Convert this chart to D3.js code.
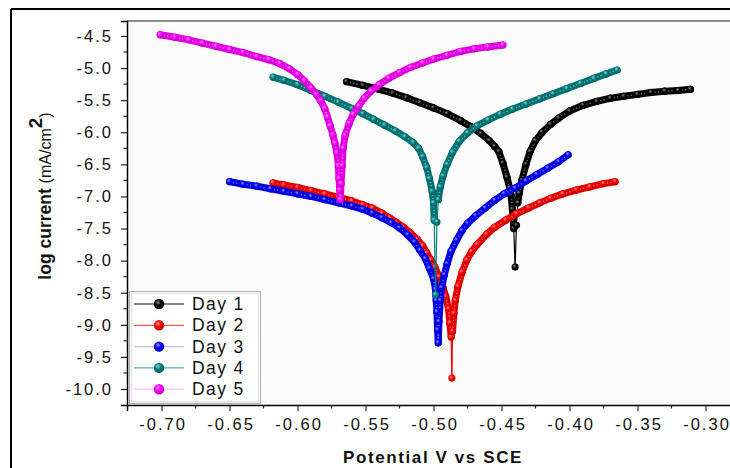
<!DOCTYPE html>
<html>
<head>
<meta charset="utf-8">
<script src="https://cdn.jsdelivr.net/npm/d3@7"></script>
<style>
  html, body { margin: 0; padding: 0; background: #fff; }
  svg { display: block; font-family: "Liberation Sans", Arial, sans-serif; }
</style>
</head>
<body>
<svg id="chart" width="730" height="468"></svg>
<script>
// Tafel polarisation curves: potential (V vs SCE) against log current (mA/cm²)
const seriesNames = ["Day 1", "Day 2", "Day 3", "Day 4", "Day 5"];
const seriesColors = ["#000000", "#ff0000", "#0000ff", "#008080", "#ff00ff"];

const day1 = [
  [-0.564, -5.21], [-0.552, -5.27], [-0.540, -5.33], [-0.530, -5.39], [-0.520, -5.46],
  [-0.510, -5.54], [-0.500, -5.62], [-0.490, -5.71], [-0.480, -5.82], [-0.472, -5.92],
  [-0.465, -6.02], [-0.459, -6.13], [-0.455, -6.22], [-0.452, -6.30], [-0.449, -6.48],
  [-0.446, -6.70], [-0.444, -6.87], [-0.443, -6.98], [-0.442, -7.20], [-0.441, -7.50],
  [-0.440, -8.10], [-0.439, -7.45], [-0.438, -7.10], [-0.437, -6.95], [-0.435, -6.75],
  [-0.432, -6.50], [-0.429, -6.30], [-0.425, -6.13], [-0.420, -6.00], [-0.414, -5.88],
  [-0.408, -5.78], [-0.400, -5.67], [-0.390, -5.58], [-0.380, -5.52], [-0.370, -5.47],
  [-0.360, -5.44], [-0.350, -5.41], [-0.340, -5.38], [-0.330, -5.36], [-0.320, -5.35],
  [-0.311, -5.33]
];

const day2 = [
  [-0.618, -6.79], [-0.610, -6.82], [-0.600, -6.86], [-0.590, -6.91], [-0.580, -6.96],
  [-0.570, -7.01], [-0.560, -7.07], [-0.552, -7.13], [-0.545, -7.18], [-0.538, -7.26],
  [-0.532, -7.34], [-0.527, -7.41], [-0.522, -7.48], [-0.517, -7.57], [-0.512, -7.67],
  [-0.508, -7.77], [-0.505, -7.88], [-0.502, -7.99], [-0.499, -8.10], [-0.496, -8.25],
  [-0.493, -8.42], [-0.491, -8.56], [-0.489, -8.75], [-0.488, -8.97], [-0.487, -9.19],
  [-0.4865, -9.83], [-0.486, -9.10], [-0.485, -8.82], [-0.484, -8.62], [-0.482, -8.40],
  [-0.479, -8.18], [-0.4755, -7.99], [-0.472, -7.86], [-0.468, -7.75], [-0.461, -7.59],
  [-0.455, -7.48], [-0.447, -7.37], [-0.439, -7.27], [-0.430, -7.18], [-0.422, -7.10],
  [-0.414, -7.03], [-0.405, -6.96], [-0.395, -6.90], [-0.385, -6.85], [-0.375, -6.80],
  [-0.3665, -6.77]
];

const day3 = [
  [-0.650, -6.77], [-0.640, -6.81], [-0.630, -6.84], [-0.620, -6.88], [-0.610, -6.92],
  [-0.600, -6.96], [-0.590, -7.00], [-0.580, -7.05], [-0.570, -7.10], [-0.560, -7.15],
  [-0.552, -7.20], [-0.545, -7.26], [-0.538, -7.33], [-0.531, -7.41], [-0.525, -7.49],
  [-0.519, -7.60], [-0.514, -7.71], [-0.510, -7.84], [-0.506, -7.97], [-0.503, -8.12],
  [-0.500, -8.28], [-0.4985, -8.45], [-0.498, -8.62], [-0.4975, -8.80], [-0.497, -9.08],
  [-0.4965, -9.28], [-0.496, -8.95], [-0.495, -8.62], [-0.494, -8.42], [-0.492, -8.22],
  [-0.490, -8.05], [-0.487, -7.85], [-0.483, -7.68], [-0.479, -7.53], [-0.475, -7.42],
  [-0.469, -7.30], [-0.462, -7.18], [-0.455, -7.06], [-0.448, -6.96], [-0.440, -6.87],
  [-0.432, -6.76], [-0.424, -6.66], [-0.416, -6.56], [-0.408, -6.46], [-0.401, -6.35]
];

const day4 = [
  [-0.618, -5.14], [-0.610, -5.19], [-0.600, -5.26], [-0.590, -5.35], [-0.580, -5.44],
  [-0.570, -5.53], [-0.560, -5.63], [-0.552, -5.71], [-0.544, -5.80], [-0.536, -5.89],
  [-0.528, -5.98], [-0.521, -6.07], [-0.515, -6.16], [-0.511, -6.25], [-0.508, -6.38],
  [-0.505, -6.55], [-0.503, -6.72], [-0.501, -6.92], [-0.500, -7.10], [-0.4995, -7.37],
  [-0.4985, -8.53], [-0.4975, -7.40], [-0.4965, -7.05], [-0.495, -6.85], [-0.493, -6.68],
  [-0.490, -6.50], [-0.486, -6.31], [-0.481, -6.14], [-0.475, -6.01], [-0.468, -5.90],
  [-0.460, -5.81], [-0.451, -5.72], [-0.442, -5.64], [-0.432, -5.56], [-0.422, -5.48],
  [-0.412, -5.40], [-0.402, -5.32], [-0.392, -5.24], [-0.382, -5.16], [-0.373, -5.09],
  [-0.365, -5.03]
];

const day5 = [
  [-0.701, -4.48], [-0.690, -4.52], [-0.680, -4.56], [-0.670, -4.61], [-0.660, -4.66],
  [-0.650, -4.71], [-0.640, -4.76], [-0.630, -4.82], [-0.621, -4.87], [-0.613, -4.93],
  [-0.606, -5.01], [-0.600, -5.10], [-0.595, -5.20], [-0.590, -5.31], [-0.586, -5.41],
  [-0.583, -5.51], [-0.580, -5.63], [-0.578, -5.76], [-0.576, -5.90], [-0.574, -6.04],
  [-0.5725, -6.17], [-0.571, -6.32], [-0.570, -6.52], [-0.5695, -6.72], [-0.569, -6.90],
  [-0.5685, -7.05], [-0.568, -6.80], [-0.5672, -6.52], [-0.5665, -6.25], [-0.565, -6.05],
  [-0.562, -5.86], [-0.559, -5.72], [-0.555, -5.59], [-0.551, -5.47], [-0.546, -5.36],
  [-0.540, -5.26], [-0.533, -5.16], [-0.525, -5.07], [-0.517, -4.99], [-0.508, -4.92],
  [-0.500, -4.86], [-0.490, -4.80], [-0.480, -4.74], [-0.470, -4.70], [-0.460, -4.67],
  [-0.449, -4.64]
];

const seriesData = [day1, day2, day3, day4, day5];

const xTicks = [-0.70, -0.65, -0.60, -0.55, -0.50, -0.45, -0.40, -0.35, -0.30];
const yTicks = [-4.5, -5.0, -5.5, -6.0, -6.5, -7.0, -7.5, -8.0, -8.5, -9.0, -9.5, -10.0];

const svg = d3.select("#chart");
const plot = { left: 127, top: 21, right: 735, bottom: 405 };

const x = d3.scaleLinear().domain([-0.7254, -0.2783]).range([plot.left, plot.right]);
const y = d3.scaleLinear().domain([-4.2664, -10.2494]).range([plot.top, plot.bottom]);

// faint paper background
svg.append("rect").attr("width", 730).attr("height", 468).attr("fill", "#ffffff");
svg.append("rect").attr("x", plot.left).attr("y", plot.top)
  .attr("width", 730 - plot.left).attr("height", plot.bottom - plot.top).attr("fill", "#fbfbfb");

// outer frame
svg.append("line").attr("x1", 11).attr("x2", 730).attr("y1", 9).attr("y2", 9)
  .attr("stroke", "#000").attr("stroke-width", 2);
svg.append("line").attr("x1", 11).attr("x2", 11).attr("y1", 9).attr("y2", 468)
  .attr("stroke", "#000").attr("stroke-width", 2);

// top border of the plot area
svg.append("line").attr("x1", plot.left).attr("x2", 730).attr("y1", plot.top).attr("y2", plot.top)
  .attr("stroke", "#666").attr("stroke-width", 1.5);

// gradients for bead markers
const defs = svg.append("defs");
seriesColors.forEach((c, i) => {
  const g = defs.append("radialGradient").attr("id", "bead" + i)
    .attr("cx", "40%").attr("cy", "35%").attr("r", "65%");
  g.append("stop").attr("offset", "0%").attr("stop-color", d3.interpolateRgb(c, "#ffffff")(i === 0 ? 0.55 : 0.6));
  g.append("stop").attr("offset", "45%").attr("stop-color", c);
  g.append("stop").attr("offset", "100%").attr("stop-color", d3.interpolateRgb(c, "#000000")(0.25));
});

const clip = defs.append("clipPath").attr("id", "plotclip");
clip.append("rect").attr("x", plot.left).attr("y", plot.top)
  .attr("width", 730 - plot.left).attr("height", plot.bottom - plot.top);

const curves = svg.append("g").attr("clip-path", "url(#plotclip)");

seriesData.forEach((pts, i) => {
  const c = seriesColors[i];
  const g = curves.append("g");
  const segs = d3.pairs(pts);
  // dense stretches read as a continuous chain of beads; long jumps as a thin line
  segs.forEach(([a, b]) => {
    const dx = x(b[0]) - x(a[0]), dy = y(b[1]) - y(a[1]);
    const len = Math.hypot(dx, dy);
    const dense = len < 22;
    g.append("line")
      .attr("x1", x(a[0])).attr("y1", y(a[1]))
      .attr("x2", x(b[0])).attr("y2", y(b[1]))
      .attr("stroke", dense ? d3.interpolateRgb(c, "#000")(0.12) : c)
      .attr("stroke-width", dense ? 7 : 1.2)
      .attr("stroke-linecap", "round");
  });
  segs.forEach(([a, b]) => {
    const dx = x(b[0]) - x(a[0]), dy = y(b[1]) - y(a[1]);
    if (Math.hypot(dx, dy) < 22) {
      g.append("line")
        .attr("x1", x(a[0])).attr("y1", y(a[1]))
        .attr("x2", x(b[0])).attr("y2", y(b[1]))
        .attr("stroke", d3.interpolateRgb(c, "#fff")(0.55))
        .attr("stroke-width", 1.6)
        .attr("stroke-dasharray", "1.2 2.2")
        .attr("opacity", 0.8);
    }
  });
  g.selectAll("circle").data(pts).join("circle")
    .attr("cx", d => x(d[0])).attr("cy", d => y(d[1]))
    .attr("r", 3.6).attr("fill", `url(#bead${i})`);
});

// axes
const fmtX = d => d.toFixed(2);
const fmtY = d => d.toFixed(1);

const xAxis = svg.append("g").attr("transform", `translate(0,${plot.bottom})`)
  .call(d3.axisBottom(x).tickValues(xTicks).tickFormat(fmtX).tickSize(6).tickPadding(7));
const yAxis = svg.append("g").attr("transform", `translate(${plot.left},0)`)
  .call(d3.axisLeft(y).tickValues(yTicks).tickFormat(fmtY).tickSize(6).tickPadding(8));

[xAxis, yAxis].forEach(a => {
  a.select(".domain").attr("stroke", "#000").attr("stroke-width", 1.5);
  a.selectAll(".tick line").attr("stroke", "#222").attr("stroke-width", 1.2);
  a.selectAll(".tick text").attr("fill", "#111").style("font-size", "16.5px")
    .style("letter-spacing", "2px")
    .style("font-family", "'Liberation Sans', Arial, sans-serif");
});
xAxis.selectAll(".tick text").attr("dx", "1px");

// minor ticks halfway between majors
const xMinor = d3.pairs(xTicks).map(([a, b]) => (a + b) / 2).concat([xTicks[xTicks.length - 1] + 0.025]);
const yMinor = d3.pairs(yTicks).map(([a, b]) => (a + b) / 2);
svg.append("g").selectAll("line").data(xMinor).join("line")
  .attr("x1", d => x(d)).attr("x2", d => x(d))
  .attr("y1", plot.bottom).attr("y2", plot.bottom + 3.5)
  .attr("stroke", "#222").attr("stroke-width", 1.2);
svg.append("g").selectAll("line").data(yMinor).join("line")
  .attr("x1", plot.left - 3.5).attr("x2", plot.left)
  .attr("y1", d => y(d)).attr("y2", d => y(d))
  .attr("stroke", "#222").attr("stroke-width", 1.2);

// axis titles
svg.append("text").attr("x", 433).attr("y", 463).attr("text-anchor", "middle")
  .style("font-size", "17px").style("font-weight", "bold").style("letter-spacing", "1.6px")
  .attr("fill", "#111")
  .text("Potential V vs SCE");

const yTitle = svg.append("text")
  .attr("transform", "translate(51,196) rotate(-90)")
  .attr("text-anchor", "middle").attr("fill", "#111");
yTitle.append("tspan").style("font-size", "17.5px").style("font-weight", "bold").text("log current ");
yTitle.append("tspan").style("font-size", "16px").text("(mA/cm");
yTitle.append("tspan").attr("dy", -9).style("font-size", "19px").style("font-weight", "bold").text("2");
yTitle.append("tspan").attr("dy", 9).style("font-size", "16px").text(")");

// legend
const lg = svg.append("g");
lg.append("rect").attr("x", 129.5).attr("y", 291.5).attr("width", 131).attr("height", 112)
  .attr("fill", "#ffffff").attr("stroke", "#aaa").attr("stroke-width", 1);
lg.append("rect").attr("x", 131.5).attr("y", 293.5).attr("width", 127).attr("height", 108)
  .attr("fill", "none").attr("stroke", "#ddd").attr("stroke-width", 1);
seriesNames.forEach((name, i) => {
  const ly = 304 + i * 21.3;
  const c = seriesColors[i];
  lg.append("line").attr("x1", 134).attr("x2", 184).attr("y1", ly).attr("y2", ly)
    .attr("stroke", d3.interpolateRgb(c, "#fff")(i === 2 || i === 4 ? 0.75 : 0.35)).attr("stroke-width", 1.3);
  lg.append("circle").attr("cx", 159).attr("cy", ly).attr("r", 5.2).attr("fill", `url(#bead${i})`);
  lg.append("text").attr("x", 192).attr("y", ly + 6).style("font-size", "17.5px")
    .style("letter-spacing", "1.4px").attr("fill", "#111").text(name);
});
</script>
</body>
</html>
